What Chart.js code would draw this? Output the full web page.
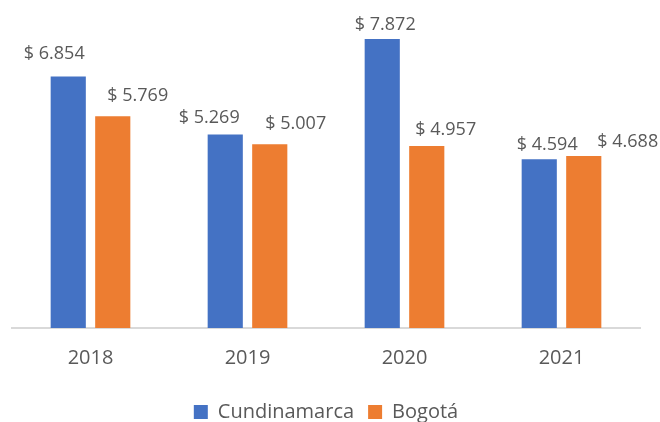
<!DOCTYPE html>
<html>
<head>
<meta charset="utf-8">
<script src="https://cdn.jsdelivr.net/npm/chart.js@4"></script>
<style>
  body { margin: 0; background: #fff; }
</style>
</head>
<body>
<canvas id="grafico" width="660" height="422"></canvas>
<script>
const years = ['2018', '2019', '2020', '2021'];
const cundinamarca = [6.854, 5.269, 7.872, 4.594];
const bogota = [5.769, 5.007, 4.957, 4.688];

// decalage des etiquettes (deplacees a la main dans l'original)
const labelDx = [[-14, -16, 3, 8], [25, 26, 19, 44]];
const labelGap = [[17, 12, 9, 9], [15, 15, 11, 9]];

Chart.defaults.font.family = '"Open Sans", sans-serif';
Chart.defaults.color = '#595959';

const etiquettes = {
  id: 'etiquettes',
  afterDatasetsDraw(chart) {
    const ctx = chart.ctx;
    ctx.save();
    ctx.font = '18px "Open Sans", sans-serif';
    ctx.fillStyle = '#595959';
    ctx.textAlign = 'center';
    ctx.textBaseline = 'alphabetic';
    chart.data.datasets.forEach((ds, i) => {
      chart.getDatasetMeta(i).data.forEach((bar, j) => {
        const txt = '$ ' + ds.data[j].toFixed(3);
        ctx.fillText(txt, bar.x + labelDx[i][j], bar.y - labelGap[i][j]);
      });
    });
    ctx.restore();
  }
};

const ctx = document.getElementById('grafico').getContext('2d');

new Chart(ctx, {
  type: 'bar',
  data: {
    labels: years,
    datasets: [
      { label: 'Cundinamarca', data: cundinamarca, backgroundColor: '#4472c4' },
      { label: 'Bogotá', data: bogota, backgroundColor: '#ed7d31' },
    ],
  },
  options: {
    responsive: false,
    animation: false,
    layout: { padding: { top: 16, left: 12, right: 20, bottom: -10 } },
    datasets: {
      bar: { categoryPercentage: 0.567, barPercentage: 0.79 },
    },
    scales: {
      x: {
        grid: { display: false, drawTicks: false },
        border: { color: '#d9d9d9', width: 2 },
        ticks: { font: { size: 20 }, padding: 18 },
      },
      y: {
        display: false,
        min: 0,
        max: 8.5,
      },
    },
    plugins: {
      legend: {
        position: 'bottom',
        labels: {
          boxWidth: 14,
          boxHeight: 14,
          font: { size: 20 },
          padding: 14,
        },
      },
      tooltip: { enabled: false },
    },
  },
  plugins: [etiquettes],
});
</script>
</body>
</html>
